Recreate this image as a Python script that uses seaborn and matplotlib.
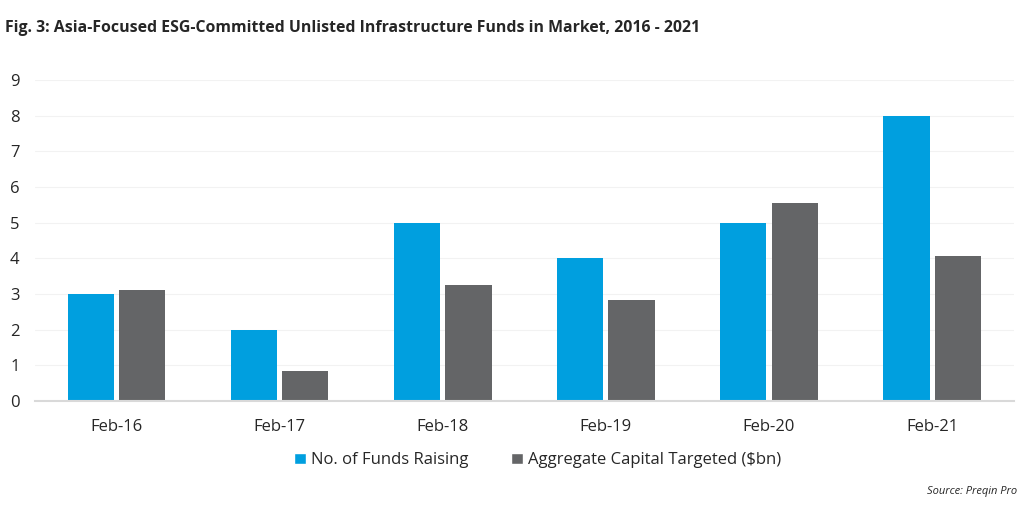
import matplotlib
matplotlib.use("Agg")
import matplotlib.pyplot as plt
import seaborn as sns
import pandas as pd
from matplotlib.patches import Patch

categories = ["Feb-16", "Feb-17", "Feb-18", "Feb-19", "Feb-20", "Feb-21"]
funds_raising = [3, 2, 5, 4, 5, 8]
capital_targeted = [3.1, 0.85, 3.25, 2.83, 5.55, 4.07]
series_names = ["No. of Funds Raising", "Aggregate Capital Targeted ($bn)"]
yticks = list(range(0, 10))

BLUE = "#009FDF"
GRAY = "#646567"

df = pd.DataFrame({
    "cat": categories * 2,
    "val": funds_raising + capital_targeted,
    "series": [series_names[0]] * len(categories) + [series_names[1]] * len(categories),
})

sns.set_theme(style="white")
plt.rcParams['font.family'] = ['Open Sans', 'DejaVu Sans']

fig = plt.figure(figsize=(10.24, 5.12), dpi=100)
ax = fig.add_axes([0.034, 0.217, 0.956, 0.627])

sns.barplot(data=df, x="cat", y="val", hue="series", order=categories,
            hue_order=series_names, palette=[BLUE, GRAY], width=0.63, gap=0.1,
            saturation=1, legend=False, ax=ax, linewidth=0)

ax.set_ylim(0, 9)
ax.set_yticks(yticks)
ax.set_xlim(-0.5, len(categories) - 0.5)
ax.grid(axis="y", color="#F2F2F2", linewidth=0.8)
ax.set_axisbelow(True)
for s in ["top", "right", "left"]:
    ax.spines[s].set_visible(False)
ax.spines["bottom"].set_color("#D9D9D9")
ax.spines["bottom"].set_linewidth(1.5)
ax.set_xlabel("")
ax.set_ylabel("")
ax.tick_params(axis="both", length=0, labelsize=12, colors="#262626")
ax.tick_params(axis="y", pad=11)
ax.tick_params(axis="x", pad=13)

fig.text(0.005, 0.945, "Fig. 3: Asia-Focused ESG-Committed Unlisted Infrastructure Funds in Market, 2016 - 2021",
         fontsize=11.4, fontweight="bold", color="#262626", va="center", ha="left")

handles = [Patch(facecolor=BLUE), Patch(facecolor=GRAY)]
fig.legend(handles, series_names, loc="center", bbox_to_anchor=(0.525, 0.101), ncol=2,
           frameon=False, fontsize=12, handlelength=0.7, handleheight=0.7,
           handletextpad=0.3, columnspacing=2.6, labelcolor="#262626")

fig.text(0.993, 0.04, "Source: Preqin Pro", fontsize=8, fontstyle="italic",
         color="#262626", ha="right", va="center")

fig.savefig("out.png", dpi=100, facecolor="white")
